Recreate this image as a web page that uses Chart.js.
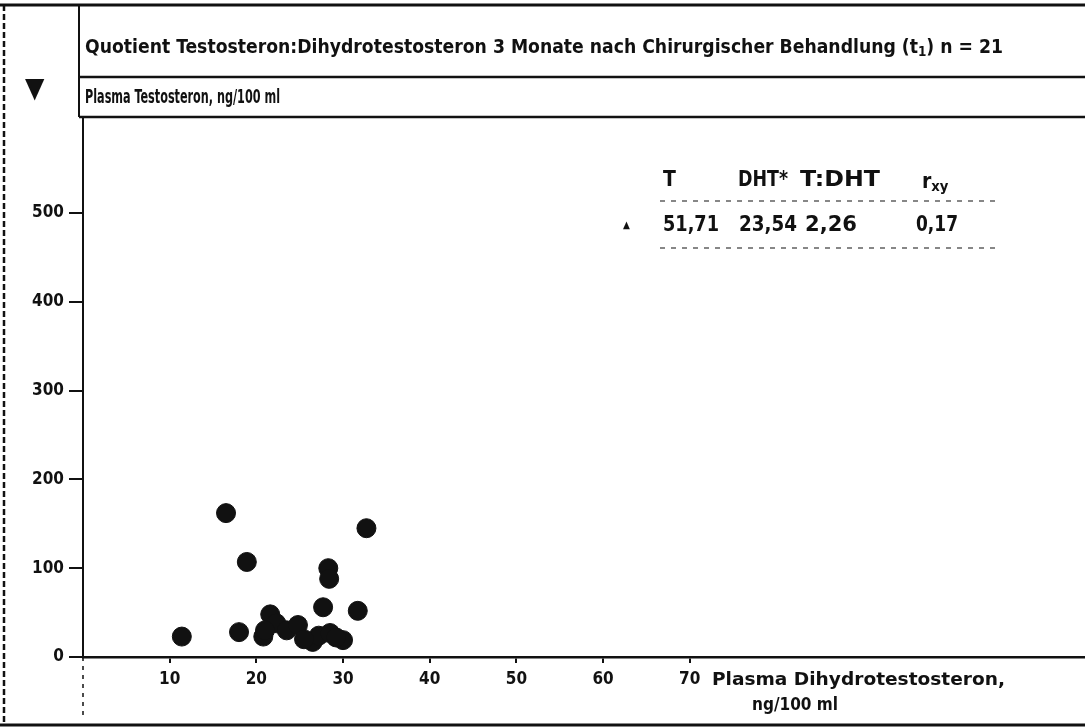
<!DOCTYPE html>
<html>
<head>
<meta charset="utf-8">
<script src="https://cdn.jsdelivr.net/npm/chart.js@4/dist/chart.umd.min.js"></script>
<style>
  html, body { margin: 0; padding: 0; background: #fff; }
  #wrap { position: relative; width: 1085px; height: 728px; overflow: hidden; }
  #c { position: absolute; left: 0; top: 0; }
  .t { position: absolute; white-space: nowrap; color: #111; font-weight: bold;
       font-family: "Liberation Sans Narrow", "DejaVu Sans Condensed", "Liberation Sans", sans-serif;
       transform-origin: left center; line-height: 1; }
  sub { font-size: 70%; vertical-align: -3px; }
</style>
</head>
<body>
<div id="wrap">
  <canvas id="c" width="1085" height="728"></canvas>
  <div class="t fit" data-w="918" style="left:85px;top:37px;font-size:19px">Quotient Testosteron:Dihydrotestosteron 3 Monate nach Chirurgischer Behandlung (t<sub>1</sub>) n = 21</div>
  <div class="t fit" data-w="195" style="left:85px;top:87px;font-size:19px">Plasma Testosteron, ng/100 ml</div>
  <div class="t" style="left:25px;top:74px;font-size:28px">▼</div>

  <div class="t" style="left:663px;top:169px;font-size:21px">T</div>
  <div class="t fit" data-w="50" style="left:738px;top:169px;font-size:21px">DHT*</div>
  <div class="t fit" data-w="80" style="left:800px;top:169px;font-size:21px">T:DHT</div>
  <div class="t" style="left:922px;top:171px;font-size:21px">r<sub>xy</sub></div>

  <div class="t" style="left:623px;top:220px;font-size:10px">▲</div>
  <div class="t fit" data-w="56" style="left:663px;top:214px;font-size:21px" id="v0"></div>
  <div class="t fit" data-w="58" style="left:739px;top:214px;font-size:21px" id="v1"></div>
  <div class="t fit" data-w="52" style="left:805px;top:214px;font-size:21px" id="v2"></div>
  <div class="t fit" data-w="42" style="left:916px;top:214px;font-size:21px" id="v3"></div>

  <div class="t fit" data-w="293" style="left:712px;top:671px;font-size:17px">Plasma Dihydrotestosteron,</div>
  <div class="t fit" data-w="86" style="left:752px;top:696px;font-size:17px">ng/100 ml</div>
</div>
<script>
// Plasma-DHT (x) und Plasma-Testosteron (y), ng/100 ml
var dhtValues = [11.4, 16.5, 18.0, 18.9, 20.8, 21.6, 22.3, 23.5, 24.8, 26.5, 27.2,
                 28.5, 30.0, 29.2, 27.7, 28.3, 28.4, 31.7, 32.7, 21.0, 25.5];
var testoValues = [23, 162, 28, 107, 23, 48, 38, 30, 36, 17, 24,
                   27, 19, 22, 56, 100, 88, 52, 145, 30, 20];
var xTicks = [10, 20, 30, 40, 50, 60, 70];
var yTicks = [0, 100, 200, 300, 400, 500];
var statValues = ["51,71", "23,54", "2,26", "0,17"];

statValues.forEach(function(v, i) {
  document.getElementById("v" + i).textContent = v;
});

var points = dhtValues.map(function(x, i) { return { x: x, y: testoValues[i] }; });

var tickFont = { family: '"Liberation Sans Narrow", "DejaVu Sans Condensed", "Liberation Sans", sans-serif', size: 17, weight: 'bold' };

var framePlugin = {
  id: 'frame',
  beforeDraw: function(chart) {
    var c = chart.ctx;
    c.save();
    c.strokeStyle = '#111';
    // outer frame
    c.lineWidth = 3;
    c.beginPath(); c.moveTo(0, 5); c.lineTo(1085, 5); c.stroke();
    c.beginPath(); c.moveTo(0, 725); c.lineTo(1085, 725); c.stroke();
    c.lineWidth = 2.5;
    c.setLineDash([6, 3]);
    c.beginPath(); c.moveTo(4, 5); c.lineTo(4, 725); c.stroke();
    c.setLineDash([]);
    // header boxes
    c.lineWidth = 2;
    c.beginPath(); c.moveTo(79, 5); c.lineTo(79, 117); c.stroke();
    c.lineWidth = 2.5;
    c.beginPath(); c.moveTo(79, 77); c.lineTo(1085, 77); c.stroke();
    c.beginPath(); c.moveTo(79, 117); c.lineTo(1085, 117); c.stroke();
    // y axis extension below zero
    var a = chart.chartArea;
    c.lineWidth = 1.5;
    c.setLineDash([4, 5]);
    c.beginPath(); c.moveTo(a.left, a.bottom); c.lineTo(a.left, 720); c.stroke();
    // table rules
    c.lineWidth = 1.2;
    c.setLineDash([5, 6]);
    c.beginPath(); c.moveTo(660, 201); c.lineTo(1000, 201); c.stroke();
    c.beginPath(); c.moveTo(660, 248); c.lineTo(1000, 248); c.stroke();
    c.restore();
  }
};

new Chart(document.getElementById('c'), {
  type: 'scatter',
  data: {
    datasets: [{
      data: points,
      backgroundColor: '#111',
      borderColor: '#111',
      pointRadius: 9.5,
      pointHoverRadius: 9.5
    }]
  },
  options: {
    responsive: false,
    animation: false,
    events: [],
    layout: { autoPadding: false, padding: { top: 117, right: 0, bottom: 0, left: 0 } },
    plugins: { legend: { display: false }, tooltip: { enabled: false } },
    scales: {
      x: {
        type: 'linear', min: 0, max: 115.6,
        afterBuildTicks: function(s) { s.ticks = xTicks.map(function(v) { return { value: v }; }); },
        afterFit: function(s) { s.height = 71; },
        grid: { drawOnChartArea: false, tickLength: 6, color: '#111', lineWidth: 2 },
        border: { color: '#111', width: 2.5 },
        ticks: { color: '#111', font: tickFont, padding: 6, maxRotation: 0 }
      },
      y: {
        type: 'linear', min: 0, max: 608,
        afterBuildTicks: function(s) { s.ticks = yTicks.map(function(v) { return { value: v }; }); },
        afterFit: function(s) { s.width = 83; },
        grid: { drawOnChartArea: false, tickLength: 14, color: '#111', lineWidth: 2 },
        border: { color: '#111', width: 2 },
        ticks: { color: '#111', font: tickFont, padding: 5 }
      }
    }
  },
  plugins: [framePlugin]
});

document.querySelectorAll('.fit').forEach(function(el) {
  var w = el.getBoundingClientRect().width;
  el.style.transform = 'scaleX(' + (parseFloat(el.dataset.w) / w) + ')';
});
</script>
</body>
</html>
